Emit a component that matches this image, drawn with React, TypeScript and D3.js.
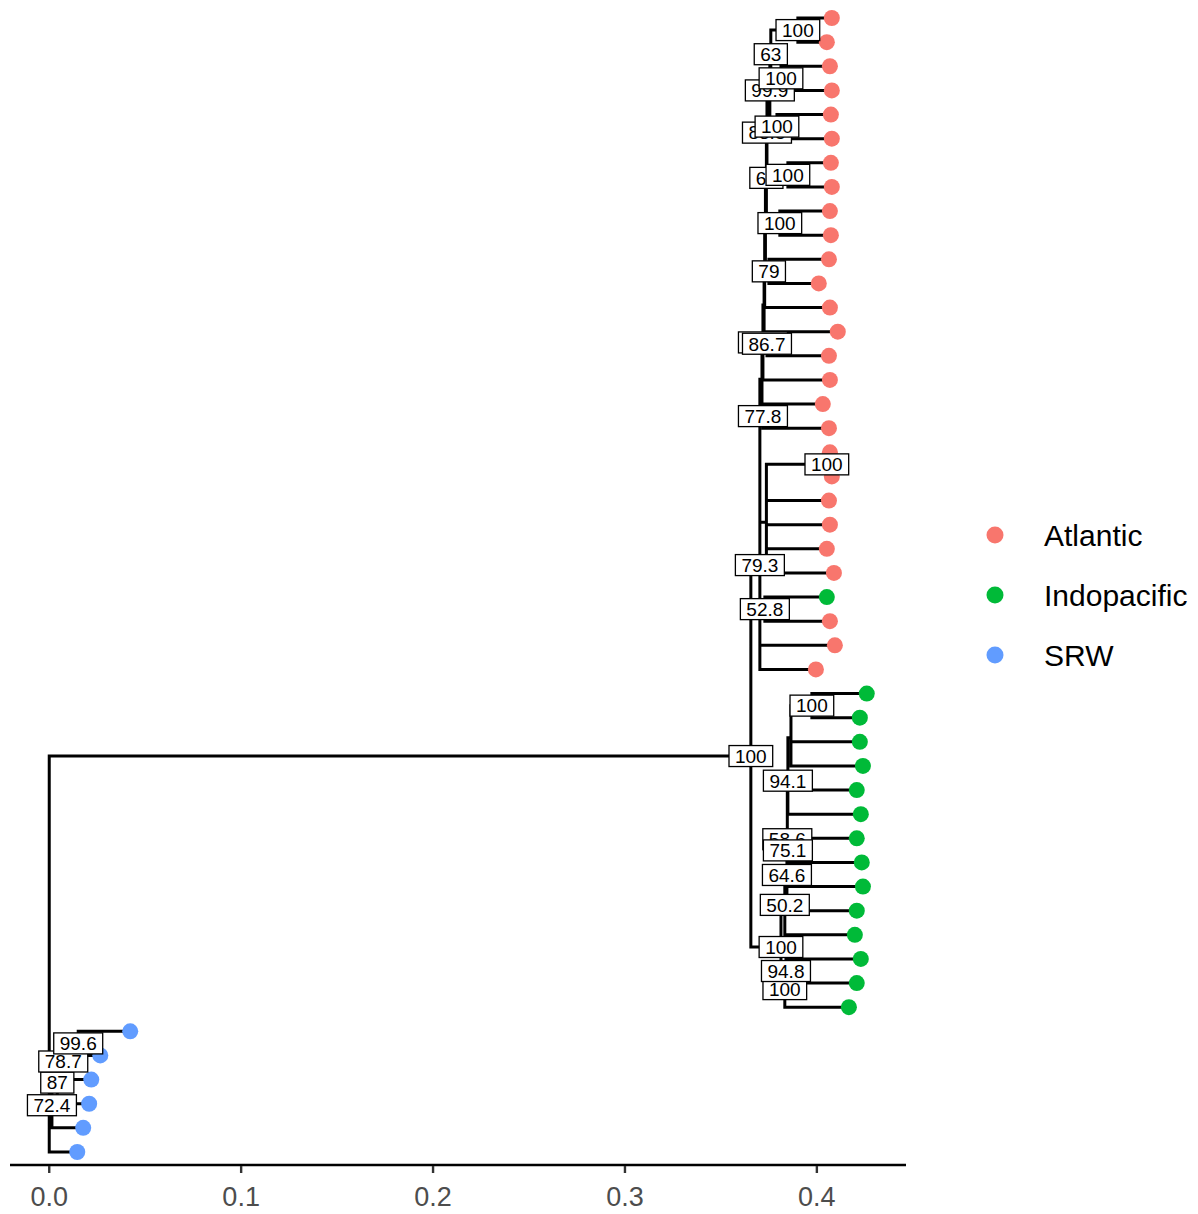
import React from 'react';
import * as d3 from 'd3';

// tree data: internal nodes [id, parent, depth (distance from root), support label]
const internalNodes: [string, string | null, number, string][] = [
  ['root', null, 0, ''],
  ['BIG', 'root', 0.3656, '100'],
  ['A', 'BIG', 0.3703, '79.3'],
  ['P5', 'A', 0.3714, ''],
  ['P4', 'P5', 0.3719, '51.4'],
  ['P3', 'P4', 0.3725, ''],
  ['P2', 'P3', 0.3728, ''],
  ['P1', 'P2', 0.3732, ''],
  ['N66', 'P1', 0.3737, '66'],
  ['N83', 'N66', 0.374, '83.5'],
  ['N999', 'N83', 0.3755, '99.9'],
  ['N63', 'N999', 0.376, '63'],
  ['N100a', 'N63', 0.3901, '100'],
  ['N100b', 'N63', 0.3813, '100'],
  ['N100c', 'N999', 0.3792, '100'],
  ['N100d', 'N83', 0.3849, '100'],
  ['N100e', 'N66', 0.3807, '100'],
  ['N79', 'P1', 0.375, '79'],
  ['N867', 'P3', 0.374, '86.7'],
  ['N778', 'P5', 0.3719, '77.8'],
  ['Q', 'A', 0.3737, ''],
  ['N100f', 'Q', 0.4052, '100'],
  ['N528', 'A', 0.3729, '52.8'],
  ['IP', 'BIG', 0.3813, '100'],
  ['N502', 'IP', 0.3833, '50.2'],
  ['N646', 'N502', 0.3844, '64.6'],
  ['N586', 'N646', 0.3846, '58.6'],
  ['N751', 'N586', 0.3849, '75.1'],
  ['N941', 'N586', 0.3849, '94.1'],
  ['M', 'N941', 0.3865, ''],
  ['N100g', 'M', 0.3974, '100'],
  ['N100L', 'IP', 0.3833, '100'],
  ['N948', 'N100L', 0.3839, '94.8'],
  ['N724', 'root', 0.0014, '72.4'],
  ['N87', 'N724', 0.0042, '87'],
  ['N787', 'N87', 0.0073, '78.7'],
  ['N996', 'N787', 0.0151, '99.6'],
];

// tips from top to bottom: [parent, depth, group]
const tips: [string, number, string][] = [
  ['N100a', 0.4078, 'Atlantic'],
  ['N100a', 0.4052, 'Atlantic'],
  ['N100b', 0.4068, 'Atlantic'],
  ['N100b', 0.4078, 'Atlantic'],
  ['N100c', 0.4073, 'Atlantic'],
  ['N100c', 0.4078, 'Atlantic'],
  ['N100d', 0.4073, 'Atlantic'],
  ['N100d', 0.4078, 'Atlantic'],
  ['N100e', 0.4068, 'Atlantic'],
  ['N100e', 0.4073, 'Atlantic'],
  ['N79', 0.4063, 'Atlantic'],
  ['N79', 0.401, 'Atlantic'],
  ['P2', 0.4068, 'Atlantic'],
  ['N867', 0.4109, 'Atlantic'],
  ['N867', 0.4063, 'Atlantic'],
  ['P4', 0.4068, 'Atlantic'],
  ['N778', 0.4031, 'Atlantic'],
  ['N778', 0.4063, 'Atlantic'],
  ['N100f', 0.4068, 'Atlantic'],
  ['N100f', 0.4078, 'Atlantic'],
  ['Q', 0.4063, 'Atlantic'],
  ['Q', 0.4068, 'Atlantic'],
  ['Q', 0.4052, 'Atlantic'],
  ['Q', 0.4089, 'Atlantic'],
  ['N528', 0.4052, 'Indopacific'],
  ['N528', 0.4068, 'Atlantic'],
  ['A', 0.4094, 'Atlantic'],
  ['A', 0.3995, 'Atlantic'],
  ['N100g', 0.426, 'Indopacific'],
  ['N100g', 0.4224, 'Indopacific'],
  ['M', 0.4224, 'Indopacific'],
  ['M', 0.424, 'Indopacific'],
  ['N941', 0.4208, 'Indopacific'],
  ['N941', 0.4229, 'Indopacific'],
  ['N751', 0.4208, 'Indopacific'],
  ['N751', 0.4234, 'Indopacific'],
  ['N586', 0.424, 'Indopacific'],
  ['N646', 0.4208, 'Indopacific'],
  ['N502', 0.4198, 'Indopacific'],
  ['N948', 0.4229, 'Indopacific'],
  ['N948', 0.4208, 'Indopacific'],
  ['N100L', 0.4167, 'Indopacific'],
  ['N996', 0.0422, 'SRW'],
  ['N996', 0.0266, 'SRW'],
  ['N787', 0.0219, 'SRW'],
  ['N87', 0.0208, 'SRW'],
  ['N724', 0.0177, 'SRW'],
  ['root', 0.0146, 'SRW'],
];

const groups = ['Atlantic', 'Indopacific', 'SRW'];
const groupColors = ['#F8766D', '#00BA38', '#619CFF'];

const FONT = '"Liberation Sans", Arial, Helvetica, sans-serif';

type Node = {
  id: string;
  parent: string | null;
  depth: number;
  label: string;
  group?: string;
  children: Node[];
  y: number;
};

function buildTree() {
  const map = new Map<string, Node>();
  internalNodes.forEach(([id, parent, depth, label]) => {
    map.set(id, { id, parent, depth, label, children: [], y: NaN });
  });
  const n = tips.length;
  const tipNodes: Node[] = tips.map(([parent, depth, group], i) => ({
    id: 't' + i, parent, depth, label: '', group, children: [], y: n - i,
  }));
  internalNodes.forEach(([id, parent]) => {
    if (parent) map.get(parent)!.children.push(map.get(id)!);
  });
  tipNodes.forEach(t => map.get(t.parent!)!.children.push(t));
  // ggtree style: internal y = mean of children y
  const setY = (nd: Node): number => {
    if (nd.children.length === 0) return nd.y;
    nd.y = d3.mean(nd.children.map(setY))!;
    return nd.y;
  };
  const root = map.get('root')!;
  setY(root);
  return { root, map, tipNodes };
}

export default function App() {
  const W = 1198, H = 1214;
  const { root, map, tipNodes } = buildTree();

  const maxDepth = d3.max(tips, d => d[1])!;
  const xPad = maxDepth * 0.048;
  const x = d3.scaleLinear().domain([-xPad, maxDepth + xPad]).range([10, 906]);
  const y = d3.scaleLinear().domain([1 - 0.54, tips.length + 0.54]).range([1165, 5]);
  const color = d3.scaleOrdinal<string, string>().domain(groups).range(groupColors);

  const all: Node[] = [...map.values(), ...tipNodes];
  const segs: string[] = [];
  all.forEach(nd => {
    if (nd.parent) {
      const p = map.get(nd.parent)!;
      segs.push(`M${x(p.depth)},${y(nd.y)}H${x(nd.depth)}`);
    }
    if (nd.children.length) {
      const ys = nd.children.map(c => c.y);
      segs.push(`M${x(nd.depth)},${y(d3.min(ys)!)}V${y(d3.max(ys)!)}`);
    }
  });

  // label draw order: preorder, lower children first
  const labelled: Node[] = [];
  const walk = (nd: Node) => {
    if (nd.label) labelled.push(nd);
    [...nd.children].sort((a, b) => a.y - b.y).forEach(walk);
  };
  walk(root);

  const fs = 19;
  const textW = (s: string) => s.split('').reduce((w, c) => w + (c === '.' ? 0.278 : 0.556) * fs, 0);

  const ticks = x.ticks(5).filter(t => t >= 0);
  const fmt = d3.format('.1f');

  return (
    <svg width={W} height={H} style={{ position: 'absolute', left: 0, top: 0, background: '#fff' }}
      fontFamily={FONT}>
      <path d={segs.join('')} fill="none" stroke="#000" strokeWidth={3} strokeLinecap="square" />
      {tipNodes.map(t => (
        <circle key={t.id} cx={x(t.depth)} cy={y(t.y)} r={8} fill={color(t.group!)} />
      ))}
      {labelled.map(nd => {
        const w = textW(nd.label) + 12;
        const h = 21;
        const cx = x(nd.depth), cy = y(nd.y);
        return (
          <g key={nd.id}>
            <rect x={cx - w / 2} y={cy - h / 2} width={w} height={h} fill="#fff" stroke="#000" strokeWidth={1.3} />
            <text x={cx} y={cy + fs * 0.36} textAnchor="middle" fontSize={fs} fill="#000">{nd.label}</text>
          </g>
        );
      })}
      <g>
        <line x1={10} x2={906} y1={1165} y2={1165} stroke="#000" strokeWidth={2.4} />
        {ticks.map(t => (
          <g key={t}>
            <line x1={x(t)} x2={x(t)} y1={1166} y2={1173} stroke="#333" strokeWidth={2.4} />
            <text x={x(t)} y={1206} textAnchor="middle" fontSize={27} fill="#4D4D4D">{fmt(t)}</text>
          </g>
        ))}
      </g>
      <g>
        {groups.map((g, i) => (
          <g key={g}>
            <circle cx={995} cy={535 + i * 60} r={8.5} fill={color(g)} />
            <text x={1044} y={535 + i * 60 + 10.5} fontSize={30} fill="#000">{g}</text>
          </g>
        ))}
      </g>
    </svg>
  );
}
